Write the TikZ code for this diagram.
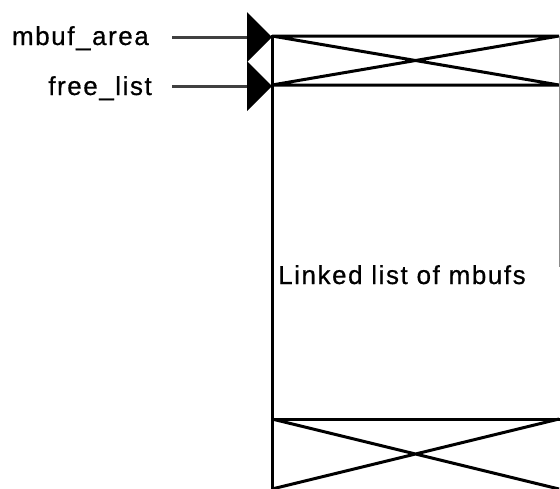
\documentclass[tikz,border=0pt]{standalone}
\usepackage{fontspec}
\newfontfamily\lblfont[LetterSpace=6, FakeBold=0.6]{Liberation Sans}
\usetikzlibrary{arrows.meta}

\begin{document}
\begin{tikzpicture}[x=1pt, y=-1pt,
  heavy/.style={line width=3pt, black},
  thinedge/.style={line width=0.8pt, black!45},
  shaft/.style={line width=3pt, black!75,
    -{Triangle[length=25pt, width=50pt, line width=0pt, color=black]}},
  lbl/.style={font=\lblfont\fontsize{26}{30}\selectfont, inner sep=0pt}]
  \useasboundingbox (0,0) rectangle (560,488);
  \begin{scope}
    \clip (0,0) rectangle (560,488);

    % pointer names
    \node[lbl, anchor=base east] (area) at (149,45) {mbuf\_area};
    \node[lbl, anchor=base east] (free) at (152,95) {free\_list};

    % first mbuf (header of the area)
    \coordinate (tl) at (272,36);
    \coordinate (tr) at (559,36);
    \coordinate (bl) at (272,85);
    \coordinate (br) at (559,85);
    \draw[heavy] (tl) -- (tr) (bl) -- (br) (tl) -- (br) (bl) -- (tr);
    \draw[thinedge] (tr) -- (559,267);

    % pointers into the area
    \coordinate (areaTail) at (172,37);
    \coordinate (freeTail) at (172,86);
    \draw[shaft] (areaTail) -- (tl |- areaTail);
    \draw[shaft] (freeTail) -- (bl |- freeTail);

    % left edge of the list
    \coordinate (spineTop) at (272,35);
    \coordinate (spineBot) at (272,490);
    \draw[heavy] (spineTop) -- (spineBot);

    \node[lbl, anchor=base west] (list) at (278,284) {Linked list of mbufs};

    % last mbuf
    \coordinate (ltl) at (272,419);
    \coordinate (ltr) at (562,419);
    \coordinate (lbot) at (272,489);
    \coordinate (lbr) at (559,489);
    \draw[heavy] (ltl) -- (ltr);
    \draw[heavy] (ltl) -- (lbr) (lbot) -- (559,419);
  \end{scope}
\end{tikzpicture}
\end{document}
